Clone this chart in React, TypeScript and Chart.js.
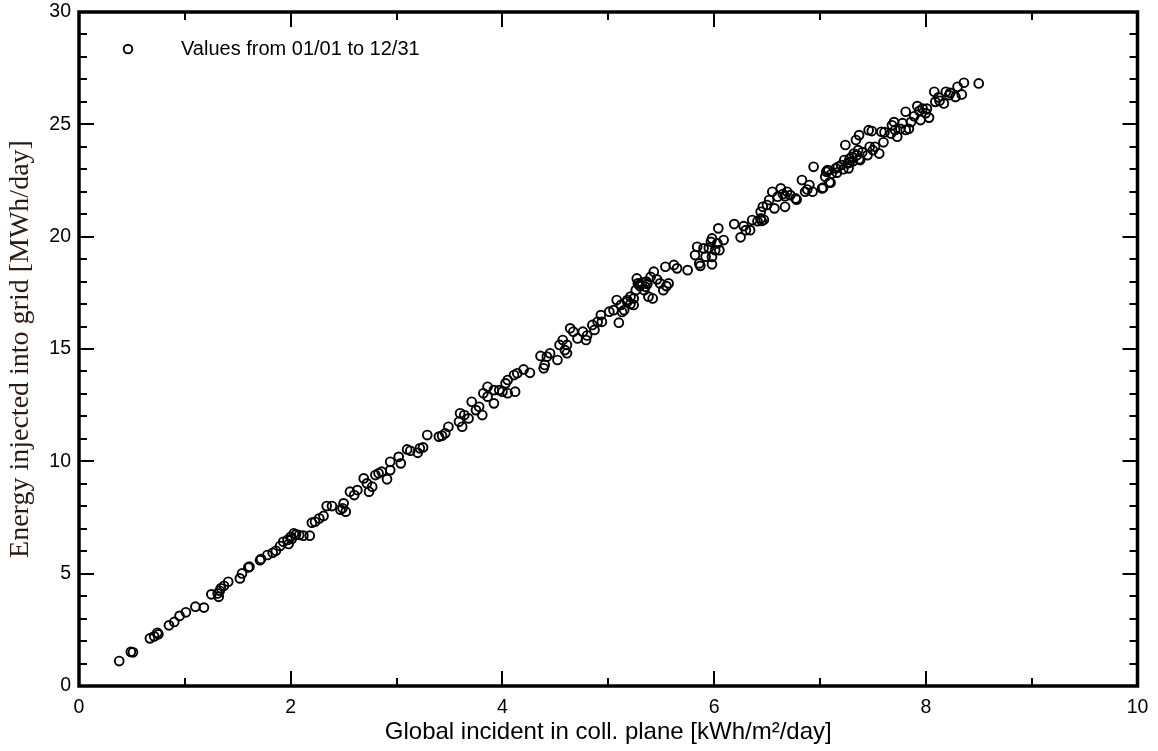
import React, { useEffect, useRef } from "react";
import { Chart, registerables } from "chart.js";

Chart.register(...registerables);

const seriesLabel = "Values from 01/01 to 12/31";
const xAxisTitle = "Global incident in coll. plane [kWh/m²/day]";
const yAxisTitle = "Energy injected into grid [MWh/day]";

const xMin = 0;
const xMax = 10;
const yMin = 0;
const yMax = 30;
const xLabelStep = 2;
const yLabelStep = 5;

// Global incident in collector plane [kWh/m²/day]
const irradiation = [
  0.38, 0.49, 0.51, 0.67, 0.71, 0.74, 0.75, 0.85, 0.90, 0.95,
  1.01, 1.10, 1.18, 1.25, 1.31, 1.32, 1.33, 1.34, 1.37, 1.41,
  1.52, 1.54, 1.60, 1.61, 1.71, 1.72, 1.78, 1.83, 1.86, 1.90,
  1.93, 1.97, 1.98, 2.00, 2.01, 2.03, 2.05, 2.08, 2.12, 2.18,
  2.20, 2.23, 2.27, 2.31, 2.34, 2.39, 2.47, 2.49, 2.50, 2.52,
  2.56, 2.60, 2.63, 2.69, 2.72, 2.74, 2.77, 2.80, 2.83, 2.86,
  2.91, 2.94, 2.94, 3.02, 3.04, 3.10, 3.13, 3.20, 3.22, 3.25,
  3.29, 3.40, 3.43, 3.46, 3.49, 3.59, 3.60, 3.62, 3.64, 3.68,
  3.71, 3.75, 3.78, 3.81, 3.82, 3.86, 3.86, 3.92, 3.92, 3.97,
  4.00, 4.03, 4.05, 4.05, 4.11, 4.12, 4.14, 4.20, 4.26, 4.36,
  4.39, 4.40, 4.42, 4.45, 4.52, 4.54, 4.57, 4.59, 4.61, 4.61,
  4.64, 4.67, 4.71, 4.76, 4.79, 4.80, 4.85, 4.87, 4.90, 4.93,
  4.94, 5.01, 5.05, 5.08, 5.10, 5.12, 5.13, 5.15, 5.18, 5.18,
  5.21, 5.21, 5.24, 5.24, 5.26, 5.27, 5.28, 5.29, 5.30, 5.32,
  5.34, 5.35, 5.36, 5.37, 5.38, 5.40, 5.42, 5.43, 5.46, 5.49,
  5.52, 5.54, 5.55, 5.57, 5.62, 5.65, 5.75, 5.82, 5.84, 5.86,
  5.87, 5.90, 5.92, 5.95, 5.97, 5.98, 5.98, 5.98, 6.01, 6.03,
  6.04, 6.05, 6.09, 6.19, 6.25, 6.28, 6.30, 6.34, 6.36, 6.41,
  6.44, 6.45, 6.47, 6.44, 6.46, 6.50, 6.52, 6.55, 6.57, 6.60,
  6.63, 6.65, 6.67, 6.67, 6.69, 6.72, 6.77, 6.78, 6.83, 6.86,
  6.88, 6.90, 6.93, 6.94, 7.02, 7.03, 7.05, 7.06, 7.07, 7.08,
  7.09, 7.10, 7.11, 7.15, 7.16, 7.17, 7.20, 7.22, 7.23, 7.24,
  7.26, 7.27, 7.28, 7.28, 7.30, 7.31, 7.32, 7.34, 7.35, 7.36,
  7.37, 7.37, 7.38, 7.40, 7.45, 7.46, 7.47, 7.49, 7.50, 7.52,
  7.56, 7.58, 7.60, 7.61, 7.67, 7.68, 7.70, 7.71, 7.73, 7.76,
  7.78, 7.81, 7.81, 7.84, 7.86, 7.89, 7.92, 7.94, 7.95, 7.97,
  8.00, 8.01, 8.03, 8.08, 8.09, 8.12, 8.13, 8.17, 8.19, 8.22,
  8.23, 8.28, 8.30, 8.34, 8.36, 8.50,
];

// Energy injected into grid [MWh/day]
const energy = [
  1.11, 1.52, 1.50, 2.12, 2.21, 2.37, 2.30, 2.70, 2.85, 3.12,
  3.28, 3.53, 3.49, 4.08, 4.12, 3.97, 4.24, 4.35, 4.46, 4.64,
  4.79, 5.01, 5.28, 5.31, 5.60, 5.65, 5.83, 5.93, 6.02, 6.23,
  6.42, 6.50, 6.32, 6.64, 6.55, 6.80, 6.75, 6.72, 6.69, 6.69,
  7.27, 7.31, 7.46, 7.57, 8.01, 8.01, 7.85, 7.91, 8.13, 7.76,
  8.65, 8.50, 8.72, 9.24, 9.02, 8.65, 8.87, 9.39, 9.47, 9.54,
  9.20, 9.61, 9.98, 10.20, 9.91, 10.53, 10.47, 10.38, 10.58, 10.62,
  11.17, 11.10, 11.14, 11.25, 11.54, 11.76, 12.14, 11.54, 12.06, 11.91,
  12.65, 12.28, 12.43, 12.06, 13.03, 13.32, 12.88, 12.58, 13.17, 13.17,
  13.10, 13.47, 13.62, 13.03, 13.84, 13.10, 13.92, 14.09, 13.94, 14.69,
  14.14, 14.29, 14.66, 14.81, 14.51, 15.18, 15.40, 14.95, 14.81, 15.18,
  15.92, 15.77, 15.47, 15.77, 15.40, 15.60, 16.07, 15.85, 16.21, 16.51,
  16.21, 16.66, 16.73, 17.18, 16.17, 16.96, 16.65, 16.73, 17.10, 17.18,
  17.33, 17.00, 16.96, 17.25, 17.62, 18.14, 17.92, 17.85, 17.80, 17.96,
  17.62, 17.77, 18.00, 17.90, 17.33, 18.21, 17.25, 18.44, 18.10, 17.92,
  17.62, 18.66, 17.80, 17.92, 18.74, 18.59, 18.51, 19.18, 19.55, 18.81,
  18.70, 19.48, 19.11, 19.50, 19.77, 19.92, 19.10, 18.77, 19.40, 19.70,
  20.37, 19.40, 19.85, 20.56, 19.97, 20.47, 20.29, 20.29, 20.74, 20.69,
  20.81, 20.70, 20.75, 21.11, 21.33, 21.41, 21.63, 22.00, 21.26, 21.78,
  22.15, 21.90, 21.80, 21.33, 22.00, 21.85, 21.70, 21.65, 22.52, 22.00,
  22.10, 22.30, 22.00, 23.11, 22.15, 22.18, 22.67, 22.89, 22.96, 22.95,
  22.42, 22.40, 22.80, 23.04, 22.85, 23.11, 23.19, 23.00, 23.41, 24.08,
  23.26, 23.04, 23.48, 23.30, 23.55, 23.35, 23.70, 24.30, 23.63, 23.85,
  24.52, 23.45, 23.41, 23.76, 23.63, 24.74, 24.00, 24.70, 23.85, 24.00,
  23.70, 24.67, 24.20, 24.65, 24.59, 24.96, 25.10, 24.75, 24.45, 24.80,
  25.05, 25.56, 24.75, 24.80, 25.10, 25.36, 25.81, 25.60, 25.19, 25.70,
  25.50, 25.70, 25.30, 26.45, 26.00, 26.20, 26.05, 25.93, 26.45, 26.30,
  26.40, 26.22, 26.67, 26.33, 26.85, 26.82,
];

const sansFont = "'Liberation Sans', Arial, sans-serif";
const serifFont = "'Liberation Serif', 'Times New Roman', serif";

const framePlugin = {
  id: "frameAndLegend",
  afterDatasetsDraw(chart: any) {
    const { ctx, chartArea, scales } = chart;
    const { left, right, top, bottom } = chartArea;
    const xs = scales.x;
    const ys = scales.y;
    ctx.save();
    ctx.strokeStyle = "#000";
    ctx.lineCap = "butt";

    // inward ticks
    ctx.lineWidth = 2;
    for (let v = xMin; v <= xMax; v += 1) {
      if (v === xMin || v === xMax) continue;
      const px = Math.round(xs.getPixelForValue(v));
      const len = v % xLabelStep === 0 ? 15 : 8;
      ctx.beginPath();
      ctx.moveTo(px, bottom);
      ctx.lineTo(px, bottom - len);
      ctx.moveTo(px, top);
      ctx.lineTo(px, top + len);
      ctx.stroke();
    }
    for (let v = yMin; v <= yMax; v += 1) {
      if (v === yMin || v === yMax) continue;
      const py = Math.round(ys.getPixelForValue(v));
      const len = v % yLabelStep === 0 ? 15 : 8;
      ctx.beginPath();
      ctx.moveTo(left, py);
      ctx.lineTo(left + len, py);
      ctx.moveTo(right, py);
      ctx.lineTo(right - len, py);
      ctx.stroke();
    }

    // frame
    ctx.lineWidth = 3.5;
    ctx.strokeRect(left, top, right - left, bottom - top);

    // legend
    const ds = chart.data.datasets[0];
    const lx = left + 49;
    const ly = top + 37;
    ctx.lineWidth = 1.9;
    ctx.beginPath();
    ctx.arc(lx, ly, 4.3, 0, Math.PI * 2);
    ctx.stroke();
    ctx.fillStyle = "#000";
    ctx.font = `20px ${sansFont}`;
    ctx.textAlign = "left";
    ctx.textBaseline = "middle";
    ctx.fillText(ds.label, left + 102, ly);
    ctx.restore();
  },
};

export default function App() {
  const canvasRef = useRef<HTMLCanvasElement | null>(null);

  useEffect(() => {
    const canvas = canvasRef.current;
    if (!canvas) return;
    const points = irradiation.map((x, i) => ({ x, y: energy[i] }));
    const chart = new Chart(canvas, {
      type: "scatter",
      data: {
        datasets: [
          {
            label: seriesLabel,
            data: points,
            pointStyle: "circle",
            pointRadius: 4.4,
            pointBorderWidth: 1.9,
            borderColor: "#000",
            backgroundColor: "rgba(0,0,0,0)",
            pointHoverRadius: 4.4,
          },
        ],
      },
      options: {
        responsive: false,
        animation: false,
        devicePixelRatio: 1,
        layout: { padding: { top: 12, right: 20.5, left: 0, bottom: 0 } },
        plugins: {
          legend: { display: false },
          tooltip: { enabled: false },
        },
        scales: {
          x: {
            type: "linear",
            min: xMin,
            max: xMax,
            grid: { display: false, drawTicks: false },
            border: { display: false },
            ticks: {
              stepSize: xLabelStep,
              color: "#000",
              padding: 10,
              maxRotation: 0,
              font: { family: sansFont, size: 19.5 },
            },
            title: {
              display: true,
              text: xAxisTitle,
              color: "#000",
              padding: { top: 0, bottom: 4 },
              font: { family: sansFont, size: 24 },
            },
            afterFit(scale: any) {
              scale.height = 65;
              scale.paddingLeft = 0;
              scale.paddingRight = 0;
            },
          },
          y: {
            type: "linear",
            min: yMin,
            max: yMax,
            grid: { display: false, drawTicks: false },
            border: { display: false },
            ticks: {
              stepSize: yLabelStep,
              color: "#000",
              padding: 8,
              font: { family: sansFont, size: 19.5 },
            },
            title: {
              display: true,
              text: yAxisTitle,
              color: "#2a1a10",
              padding: { top: 4, bottom: 0 },
              font: { family: serifFont, size: 28 },
            },
            afterFit(scale: any) {
              scale.width = 79;
              scale.paddingTop = 0;
              scale.paddingBottom = 0;
            },
          },
        },
      },
      plugins: [framePlugin],
    });
    return () => chart.destroy();
  }, []);

  return (
    <div style={{ position: "absolute", left: 0, top: 0, width: 1158, height: 751, background: "#fff" }}>
      <canvas ref={canvasRef} width={1158} height={751} style={{ width: 1158, height: 751, display: "block" }} />
    </div>
  );
}
